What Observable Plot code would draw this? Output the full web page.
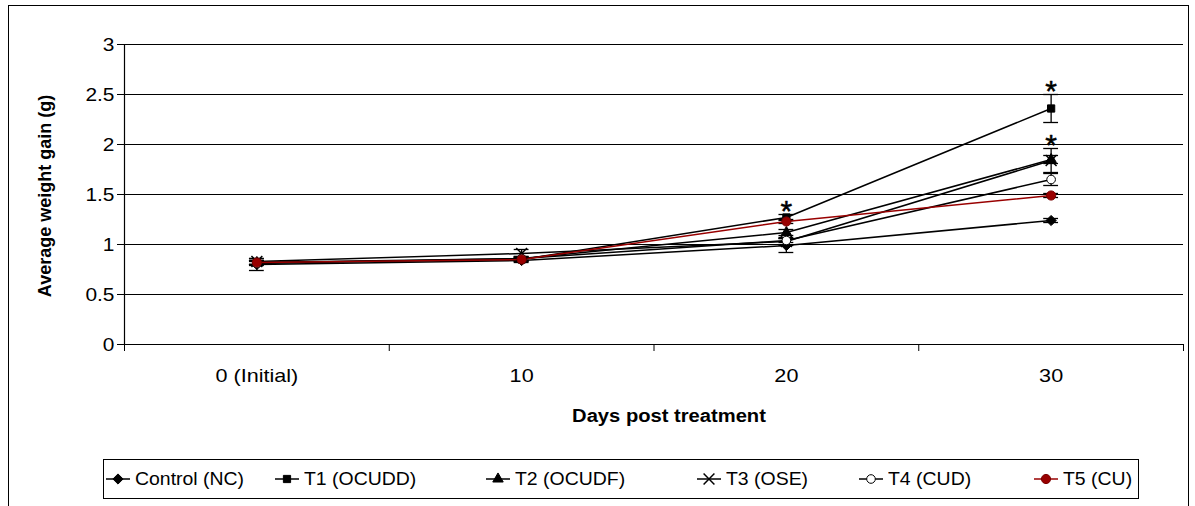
<!DOCTYPE html>
<html><head><meta charset="utf-8">
<script src="https://cdn.jsdelivr.net/npm/d3@7"></script>
<script src="https://cdn.jsdelivr.net/npm/@observablehq/plot@0.6"></script>
<style>
body{margin:0;background:#fff;font-family:"Liberation Sans",Arial,sans-serif;width:1195px;height:506px;overflow:hidden;position:relative;}
#frame{position:absolute;left:8px;top:5px;width:1179px;height:540px;border:1px solid #000;}
#chart{position:absolute;left:0;top:0;}
#ylab{position:absolute;left:45px;top:196px;transform:translate(-50%,-50%) rotate(-90deg);font-weight:bold;font-size:18px;white-space:nowrap;}
#xlab{position:absolute;left:669px;top:416px;transform:translate(-50%,-50%) scaleX(1.12);font-weight:bold;font-size:18px;white-space:nowrap;}
#legend{position:absolute;left:103px;top:459px;width:1036px;height:40px;border:1px solid #000;box-sizing:border-box;font-size:18px;}
.item{position:absolute;top:0;height:38px;display:flex;align-items:center;white-space:nowrap;}
.item span{display:inline-block;transform-origin:left center;}
</style></head><body>
<div id="frame"></div>
<div id="chart"></div>
<div id="ylab">Average weight gain (g)</div>
<div id="xlab">Days post treatment</div>
<div id="legend"></div>
<script>
const days = ["0 (Initial)", "10", "20", "30"];
const seriesNames = ["Control (NC)", "T1 (OCUDD)", "T2 (OCUDF)", "T3 (OSE)", "T4 (CUD)", "T5 (CU)"];
const controlNC = [0.80, 0.84, 0.99, 1.24];
const t1OCUDD  = [0.82, 0.85, 1.27, 2.36];
const t2OCUDF  = [0.82, 0.86, 1.12, 1.85];
const t3OSE    = [0.83, 0.91, 1.03, 1.84];
const t4CUD    = [0.81, 0.86, 1.04, 1.65];
const t5CU     = [0.82, 0.85, 1.23, 1.49];
const errControl = [0.06, 0.02, 0.07, 0.02];
const errT1 = [0.02, 0.02, 0.03, 0.14];
const errT2 = [0.02, 0.02, 0.03, 0.04];
const errT3 = [0.03, 0.04, 0.04, 0.12];
const errT4 = [0.02, 0.02, 0.02, 0.06];
const errT5 = [0.02, 0.02, 0.02, 0.02];
const starSeries = ["T1 (OCUDD)", "T1 (OCUDD)", "T3 (OSE)"];
const starDay = ["20", "30", "30"];
const yTicks = [0, 0.5, 1, 1.5, 2, 2.5, 3];

const values = [controlNC, t1OCUDD, t2OCUDF, t3OSE, t4CUD, t5CU];
const errors = [errControl, errT1, errT2, errT3, errT4, errT5];
const red = "#990000";
const styles = [
  {symbol: "diamond2", fill: "black", stroke: "black", line: "black", r: 4.6},
  {symbol: "square2", fill: "black", stroke: "black", line: "black", r: 4.6},
  {symbol: "triangle2", fill: "black", stroke: "black", line: "black", r: 5},
  {symbol: "times", fill: "none", stroke: "black", line: "black", r: 5},
  {symbol: "circle", fill: "white", stroke: "black", line: "black", r: 4.3},
  {symbol: "circle", fill: red, stroke: "#7a0000", line: red, r: 4.6}
];
const series = seriesNames.map((s, k) => ({
  name: s, style: styles[k],
  rows: days.map((d, i) => ({s, i, v: values[k][i], e: errors[k][i]}))
}));
const stars = starSeries.map((s, j) => {
  const k = seriesNames.indexOf(s), i = days.indexOf(starDay[j]);
  return {i, y: values[k][i] + errors[k][i]};
});

const cap = 0.028;
const marks = [
  Plot.ruleY(yTicks.filter(t => t > 0), {stroke: "black", strokeWidth: 1.2}),
  Plot.ruleY([0], {stroke: "black", strokeWidth: 1.2}),
  Plot.ruleX([-0.5], {y1: 0, y2: 3, stroke: "black", strokeWidth: 1.2}),
  Plot.axisY({ticks: yTicks, tickSize: 7, tickPadding: 3, fontSize: 19, label: null, tickFormat: d => String(d)}),
  Plot.axisX({ticks: [-0.5, 0.5, 1.5, 2.5, 3.5], tickSize: 7, tickFormat: () => "", label: null}),
  Plot.axisX({ticks: [0, 1, 2, 3], tickSize: 0, tickPadding: 25, fontSize: 18, tickFormat: i => days[i], label: null})
];
for (const s of series) {
  marks.push(Plot.ruleX(s.rows, {x: "i", y1: d => d.v - d.e, y2: d => d.v + d.e, stroke: "black", strokeWidth: 1.3}));
  marks.push(Plot.ruleY(s.rows, {y: d => d.v + d.e, x1: d => d.i - cap, x2: d => d.i + cap, stroke: "black", strokeWidth: 1.3}));
  marks.push(Plot.ruleY(s.rows, {y: d => d.v - d.e, x1: d => d.i - cap, x2: d => d.i + cap, stroke: "black", strokeWidth: 1.3}));
}
for (const s of series) {
  marks.push(Plot.line(s.rows, {x: "i", y: "v", stroke: s.style.line, strokeWidth: 1.5}));
}
for (const s of series) {
  marks.push(Plot.dot(s.rows, {x: "i", y: "v", symbol: s.style.symbol, r: s.style.r, fill: s.style.fill, stroke: s.style.stroke, strokeWidth: s.style.symbol === "times" ? 1.5 : 1}));
}
marks.push(Plot.text(stars, {x: "i", y: "y", text: () => "*", fontSize: 30, lineAnchor: "bottom", dy: 6, fill: "black", stroke: "black", strokeWidth: 0.5}));

const chart = Plot.plot({
  width: 1195, height: 430,
  marginLeft: 124, marginRight: 12, marginTop: 44, marginBottom: 86,
  x: {type: "linear", domain: [-0.5, 3.5]},
  y: {type: "linear", domain: [0, 3]},
  style: {fontFamily: "Liberation Sans, Arial, sans-serif", color: "black", background: "transparent"},
  marks
});
document.getElementById("chart").appendChild(chart);
// widen tick labels horizontally like the reference rendering
function widen(sel, k) {
  chart.querySelectorAll(sel).forEach(t => {
    const tr = t.getAttribute("transform") || "";
    t.setAttribute("transform", tr + ` scale(${k},1)`);
  });
}
widen("g[aria-label='x-axis tick label'] text", 1.2);
widen("g[aria-label='y-axis tick label'] text", 1.1);

const leg = document.getElementById("legend");
const markerX = [117, 286, 497, 708, 870, 1045];
const symMap = {diamond2: d3.symbolDiamond2, square2: d3.symbolSquare2, triangle2: d3.symbolTriangle2, times: d3.symbolTimes, circle: d3.symbolCircle};
series.forEach((s, k) => {
  const st = s.style;
  const item = document.createElement("div");
  item.className = "item";
  const w = 24, h = 16;
  item.style.left = (markerX[k] - 103 - w / 2) + "px";
  const path = d3.symbol(symMap[st.symbol], Math.PI * st.r * st.r)();
  item.innerHTML = `<svg width="${w}" height="${h}"><line x1="0" x2="${w}" y1="${h/2}" y2="${h/2}" stroke="${st.line}" stroke-width="1.5"/><path d="${path}" transform="translate(${w/2},${h/2})" fill="${st.fill}" stroke="${st.stroke}" stroke-width="${st.symbol === 'times' ? 1.5 : 1}"/></svg><span style="margin-left:5px;transform:scaleX(1.08)">${s.name}</span>`;
  leg.appendChild(item);
});
</script>
</body></html>
